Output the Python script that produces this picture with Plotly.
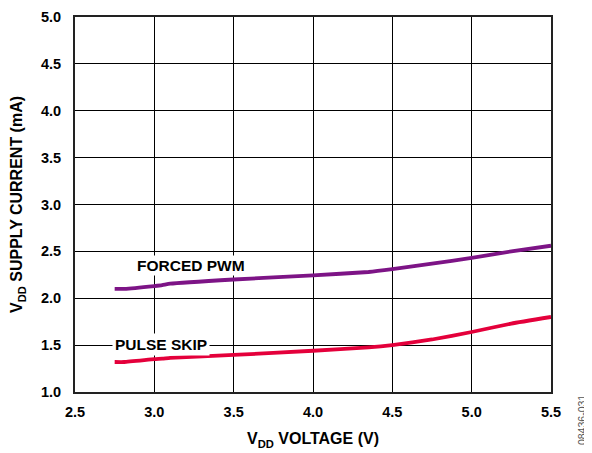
import plotly.graph_objects as go

vdd_pwm = [2.75, 2.81, 3.0, 3.05, 3.1, 3.5, 4.0, 4.35, 4.5, 4.75, 5.0, 5.25, 5.5]
i_pwm = [2.10, 2.10, 2.13, 2.14, 2.155, 2.20, 2.245, 2.28, 2.31, 2.37, 2.43, 2.50, 2.56]

vdd_skip = [2.75, 2.81, 3.0, 3.05, 3.1, 3.5, 4.0, 4.35, 4.5, 4.75, 5.0, 5.25, 5.5]
i_skip = [1.32, 1.32, 1.35, 1.355, 1.365, 1.395, 1.44, 1.475, 1.50, 1.56, 1.64, 1.73, 1.80]

x_ticks = [2.5, 3.0, 3.5, 4.0, 4.5, 5.0, 5.5]
y_ticks = [1.0, 1.5, 2.0, 2.5, 3.0, 3.5, 4.0, 4.5, 5.0]

font = "Liberation Sans, Arial, sans-serif"

fig = go.Figure()
fig.add_trace(go.Scatter(x=vdd_pwm, y=i_pwm, mode="lines",
                         line=dict(color="#7d1486", width=3.8, shape="spline", smoothing=0.4),
                         showlegend=False))
fig.add_trace(go.Scatter(x=vdd_skip, y=i_skip, mode="lines",
                         line=dict(color="#e4003b", width=3.8, shape="spline", smoothing=0.4),
                         showlegend=False))

fig.update_layout(
    width=592, height=453,
    margin=dict(l=67, r=49, t=9, b=69, autoexpand=False),
    paper_bgcolor="white", plot_bgcolor="white",
    font=dict(family=font, size=14, color="black"),
    xaxis=dict(range=[2.5, 5.5], tickvals=x_ticks,
               ticktext=[f"<b>{v:.1f}</b>" for v in x_ticks],
               showgrid=True, gridcolor="black", gridwidth=1,
               showline=True, linecolor="#222", linewidth=1.8, mirror=True,
               ticks="", zeroline=False, automargin=False,
               ticklabelstandoff=6, ticklabeloverflow="allow",
               tickfont=dict(family=font, size=14.5, color="black"),
               title=dict(text="<b>V<sub>DD</sub> VOLTAGE (V)</b>",
                          font=dict(family=font, size=16), standoff=14)),
    yaxis=dict(range=[1.0, 5.0], tickvals=y_ticks,
               ticktext=[f"<b>{v:.1f}</b>" for v in y_ticks],
               showgrid=True, gridcolor="black", gridwidth=1,
               showline=True, linecolor="#222", linewidth=1.8, mirror=True,
               ticks="", zeroline=False, automargin=False,
               ticklabelstandoff=9, ticklabeloverflow="allow",
               tickfont=dict(family=font, size=14.5, color="black"),
               title=dict(text="<b>V<sub>DD</sub> SUPPLY CURRENT (mA)</b>",
                          font=dict(family=font, size=16), standoff=14)),
)

fig.add_annotation(x=3.228, y=2.354, xref="x", yref="y", text="<b>FORCED PWM</b>",
                   showarrow=False, font=dict(family=font, size=15.5, color="black"),
                   bgcolor="white", borderpad=1)
fig.add_annotation(x=3.04, y=1.504, xref="x", yref="y", text="<b>PULSE SKIP</b>",
                   showarrow=False, font=dict(family=font, size=15.5, color="black"),
                   bgcolor="white", borderpad=2)
fig.add_annotation(x=1.065, y=-0.075, xref="paper", yref="paper", text="08436-031",
                   showarrow=False, textangle=-90, xanchor="center", yanchor="middle",
                   font=dict(family=font, size=10.5, color="#555"))

fig.write_html("out.html")
